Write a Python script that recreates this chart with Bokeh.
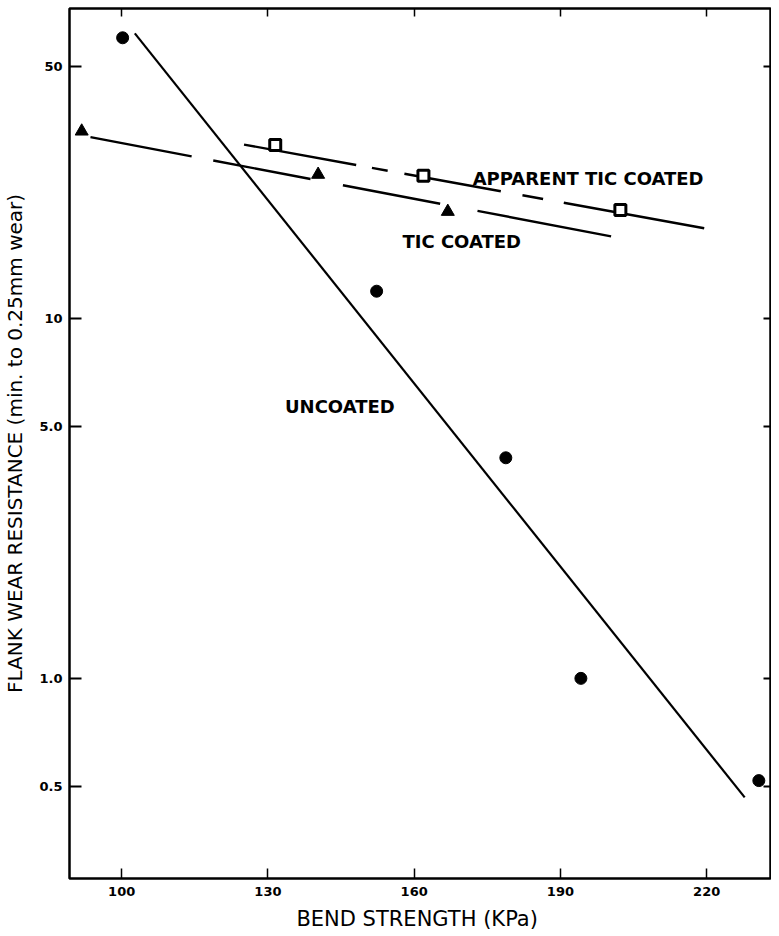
from bokeh.plotting import figure
from bokeh.models import Range1d, LogAxis, LinearAxis, FixedTicker, Label
from bokeh.embed import file_html
from bokeh.resources import INLINE

# ---- data ----
x_ticks = [100, 130, 160, 190, 220]
y_ticks = [0.5, 1.0, 5.0, 10, 50]
y_tick_labels = ["0.5", "1.0", "5.0", "10", "50"]

uncoated_x = [100.2, 152.3, 178.8, 194.2, 230.7]
uncoated_y = [60.2, 11.9, 4.1, 1.0, 0.52]
uncoated_fit_x = [102.7, 227.8]
uncoated_fit_y = [61.9, 0.467]

tic_x = [91.8, 140.3, 166.9]
tic_y = [33.1, 25.1, 19.8]
tic_fit_x = [93.6, 200.4]
tic_fit_y = [31.9, 16.9]

app_x = [131.5, 161.9, 202.3]
app_y = [30.3, 24.9, 20.0]
app_fit_x = [125.1, 219.5]
app_fit_y = [30.4, 17.8]

labels = ["APPARENT TIC COATED", "TIC COATED", "UNCOATED"]

FONT = "DejaVu Sans"

p = figure(width=771, height=933, y_axis_type="log",
           x_range=Range1d(89.3, 233.3), y_range=Range1d(0.278, 72.6),
           output_backend="svg", toolbar_location=None,
           min_border_left=56, min_border_right=0, min_border_top=8,
           min_border_bottom=10)
p.background_fill_color = "white"
p.border_fill_color = "white"
p.grid.visible = False
p.outline_line_color = "black"
p.outline_line_width = 2.5

# left axis
ya = p.yaxis[0]
ya.ticker = FixedTicker(ticks=y_ticks, minor_ticks=[])
ya.major_label_overrides = {t: l for t, l in zip(y_ticks, y_tick_labels)}
ya.major_tick_in = 12
ya.major_tick_out = 0
ya.major_tick_line_width = 2
ya.minor_tick_line_color = None
ya.axis_line_color = None
ya.major_label_standoff = 7
ya.major_label_text_font = FONT
ya.major_label_text_font_style = "bold"
ya.major_label_text_font_size = "13px"
ya.major_label_text_color = "black"
ya.axis_label = "FLANK WEAR RESISTANCE (min. to 0.25mm wear)"
ya.axis_label_text_font = FONT
ya.axis_label_text_font_style = "normal"
ya.axis_label_text_font_size = "20px"
ya.axis_label_text_color = "black"
ya.axis_label_standoff = 9

# bottom axis
xa = p.xaxis[0]
xa.ticker = FixedTicker(ticks=x_ticks, minor_ticks=[])
xa.major_tick_in = 10
xa.major_tick_out = 0
xa.major_tick_line_width = 1.5
xa.minor_tick_line_color = None
xa.axis_line_color = None
xa.major_label_standoff = 8
xa.major_label_text_font = FONT
xa.major_label_text_font_style = "bold"
xa.major_label_text_font_size = "13px"
xa.major_label_text_color = "black"
xa.axis_label = "BEND STRENGTH  (KPa)"
xa.axis_label_text_font = FONT
xa.axis_label_text_font_style = "normal"
xa.axis_label_text_font_size = "21px"
xa.axis_label_text_color = "black"
xa.axis_label_standoff = 8

# top axis (ticks only)
ta = LinearAxis(ticker=FixedTicker(ticks=x_ticks, minor_ticks=[]))
ta.major_tick_in = 8
ta.major_tick_out = 0
ta.major_tick_line_width = 1.5
ta.minor_tick_line_color = None
ta.axis_line_color = None
ta.major_label_text_font_size = "0px"
ta.major_label_standoff = 0
p.add_layout(ta, "above")

# right axis (ticks only)
ra = LogAxis(ticker=FixedTicker(ticks=y_ticks, minor_ticks=[]))
ra.major_tick_in = 8
ra.major_tick_out = 0
ra.major_tick_line_width = 2
ra.minor_tick_line_color = None
ra.axis_line_color = None
ra.major_label_text_font_size = "0px"
ra.major_label_standoff = 0
p.add_layout(ra, "right")

# fitted lines
p.line(uncoated_fit_x, uncoated_fit_y, line_color="black", line_width=2.2)
p.line(tic_fit_x, tic_fit_y, line_color="black", line_width=2.4,
       line_dash="103 22 99 33 99 38 140 10")
p.line(app_fit_x, app_fit_y, line_color="black", line_width=2.4,
       line_dash="114 16 16 17 98 22 21 21 150 10")

# markers
p.scatter(uncoated_x, uncoated_y, marker="circle", size=12,
          fill_color="black", line_color="black")
p.scatter(tic_x, tic_y, marker="triangle", size=13,
          fill_color="black", line_color="black")
p.scatter(app_x, app_y, marker="square", size=11,
          fill_color="white", line_color="black", line_width=3)

# curve labels
for txt, lx, ly in zip(labels, [172.0, 157.6, 133.5], [24.5, 16.4, 5.70]):
    p.add_layout(Label(x=lx, y=ly, text=txt, text_font=FONT,
                       text_font_style="bold", text_font_size="18px",
                       text_baseline="middle", text_align="left",
                       text_color="black"))

open("out.html", "w").write(file_html(p, INLINE))
